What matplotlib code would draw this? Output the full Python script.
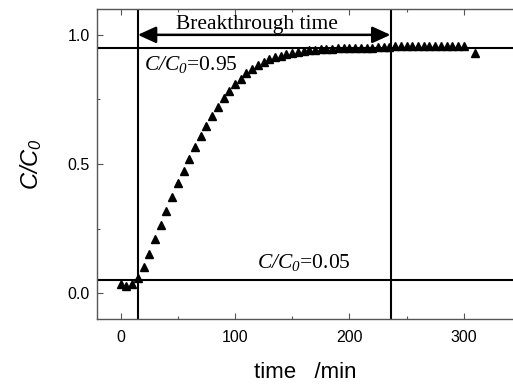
import matplotlib
matplotlib.use("Agg")
import matplotlib.pyplot as plt
from matplotlib.ticker import MultipleLocator, FormatStrFormatter

plt.rcParams['mathtext.fontset'] = 'custom'
plt.rcParams['mathtext.rm'] = 'Liberation Serif'
plt.rcParams['mathtext.it'] = 'Liberation Serif:italic'
plt.rcParams['mathtext.cal'] = 'Liberation Serif:italic'
plt.rcParams['mathtext.sf'] = 'Liberation Sans:italic'

# data: time (min) and C/C0
time_min = [0, 5, 10, 15, 20, 25, 30, 35, 40, 45, 50, 55, 60, 65, 70, 75, 80, 85, 90, 95,
            100, 105, 110, 115, 120, 125, 130, 135, 140, 145, 150, 155, 160, 165, 170, 175,
            180, 185, 190, 195, 200, 205, 210, 215, 220, 225, 230, 235, 240, 245, 250, 255,
            260, 265, 270, 275, 280, 285, 290, 295, 300, 310]
c_ratio = [0.036, 0.026, 0.036, 0.058, 0.100, 0.152, 0.209, 0.264, 0.319, 0.374, 0.425, 0.473,
           0.519, 0.565, 0.608, 0.648, 0.687, 0.722, 0.754, 0.783, 0.809, 0.831, 0.852, 0.869,
           0.884, 0.895, 0.905, 0.913, 0.920, 0.926, 0.931, 0.935, 0.938, 0.941, 0.943, 0.945,
           0.946, 0.947, 0.948, 0.949, 0.950, 0.950, 0.951, 0.951, 0.951, 0.952, 0.952, 0.953,
           0.955, 0.956, 0.956, 0.957, 0.957, 0.957, 0.957, 0.957, 0.957, 0.957, 0.957, 0.957,
           0.956, 0.931]

level_high = 0.95
level_low = 0.05
t_start = 15
t_break = 236

xticks = [0, 100, 200, 300]
yticks = [0.0, 0.5, 1.0]

fig = plt.figure(figsize=(5.13, 3.85), dpi=100)
ax = fig.add_axes([0.189, 0.1714, 0.811, 0.8052])

ax.plot(time_min, c_ratio, linestyle='none', marker='^', color='black', ms=6.2, zorder=3)

ax.axhline(level_high, color='black', lw=1.5)
ax.axhline(level_low, color='black', lw=1.5)
ax.axvline(t_start, color='black', lw=1.5)
ax.axvline(t_break, color='black', lw=1.5)

ax.annotate('', xy=(t_start, 1.0), xytext=(t_break, 1.0),
            arrowprops=dict(arrowstyle='<|-|>,head_length=0.55,head_width=0.25',
                            color='black', lw=1.8, mutation_scale=20,
                            shrinkA=0, shrinkB=0))
ax.text(119, 1.005, 'Breakthrough time', family='Liberation Serif', fontsize=15.5,
        ha='center', va='bottom')
ax.text(20.5, 0.863, r'$\mathcal{C/C}_{\mathcal{0}}$=0.95', family='Liberation Serif',
        fontsize=15.5, ha='left', va='baseline')
ax.text(119, 0.097, r'$\mathcal{C/C}_{\mathcal{0}}$=0.05', family='Liberation Serif',
        fontsize=15.5, ha='left', va='baseline')

ax.set_xlim(-20.7, 343.1)
ax.set_ylim(-0.1, 1.1)
ax.set_xticks(xticks)
ax.set_yticks(yticks)
ax.yaxis.set_major_formatter(FormatStrFormatter('%.1f'))
ax.xaxis.set_minor_locator(MultipleLocator(50))
ax.yaxis.set_minor_locator(MultipleLocator(0.25))

spine_col = '#555555'
for s in ['left', 'bottom', 'top']:
    ax.spines[s].set_color(spine_col)
    ax.spines[s].set_linewidth(1.0)
ax.spines['right'].set_visible(False)
ax.tick_params(which='both', direction='in', top=True, right=False, color=spine_col)
ax.tick_params(which='major', length=4, width=0.8, labelsize=11.5, pad=8)
ax.tick_params(axis='y', which='major', pad=5)
ax.tick_params(which='minor', length=2.2, width=0.8)
for lbl in ax.get_xticklabels() + ax.get_yticklabels():
    lbl.set_family('Liberation Sans')

ax.set_xlabel('time   /min', family='Liberation Sans', fontsize=16, labelpad=12)
ax.set_ylabel(r'$\mathsf{C/C}_{\mathsf{0}}$', fontsize=17, labelpad=17)

fig.savefig('out.png', dpi=100)
